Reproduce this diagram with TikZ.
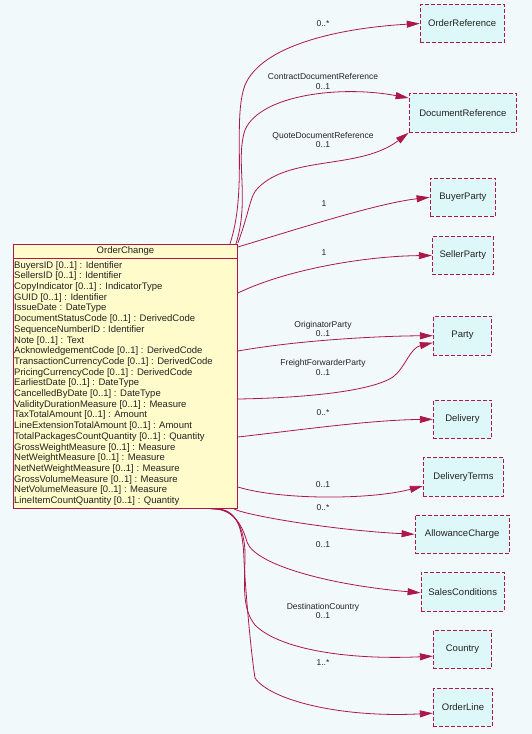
\documentclass[tikz,border=0pt]{standalone}
\usepackage{fontspec}
\setmainfont{Liberation Sans}
\usetikzlibrary{arrows.meta}
\definecolor{bg}{RGB}{242,249,251}
\definecolor{edge}{RGB}{172,24,72}
\definecolor{clsfill}{RGB}{255,251,202}
\definecolor{reffill}{RGB}{222,248,249}
\definecolor{txt}{RGB}{35,35,35}
\begin{document}
\begin{tikzpicture}[x=1pt,y=-1pt,
  cls/.style={draw=edge, fill=clsfill, line width=0.9pt, minimum width=224pt, minimum height=264pt, anchor=north west, inner sep=0pt},
  refbox/.style={draw=edge, fill=reffill, dash pattern=on 4pt off 2pt, line width=0.9pt, minimum height=38.5pt, inner sep=0pt, font=\fontsize{9.5}{11}\selectfont, text=txt},
  attr/.style={anchor=base west, inner sep=0pt, font=\fontsize{9.5}{11}\selectfont, text=txt},
  lbl/.style={inner sep=0pt, font=\fontsize{8.5}{9.4}\selectfont, text=txt, align=center},
  assoc/.style={draw=edge, line width=0.8pt, -{Triangle[length=13pt,width=7pt]}},
]
\useasboundingbox (0,0) rectangle (532,734);
\fill[bg] (0,0) rectangle (532,734);

% class box
\node[cls] (oc) at (13,244) {};
\draw[edge, line width=0.9pt] ([shift={(0,14)}]oc.north west) -- ([shift={(0,14)}]oc.north east);
\node[inner sep=0pt, font=\fontsize{9.5}{11}\selectfont, text=txt] (octitle) at (125.5,251) {OrderChange};
\foreach \t [count=\i] in {
  {BuyersID [0..1] : Identifier},
  {SellersID [0..1] : Identifier},
  {CopyIndicator [0..1] : IndicatorType},
  {GUID [0..1] : Identifier},
  {IssueDate : DateType},
  {DocumentStatusCode [0..1] : DerivedCode},
  {SequenceNumberID : Identifier},
  {Note [0..1] : Text},
  {AcknowledgementCode [0..1] : DerivedCode},
  {TransactionCurrencyCode [0..1] : DerivedCode},
  {PricingCurrencyCode [0..1] : DerivedCode},
  {EarliestDate [0..1] : DateType},
  {CancelledByDate [0..1] : DateType},
  {ValidityDurationMeasure [0..1] : Measure},
  {TaxTotalAmount [0..1] : Amount},
  {LineExtensionTotalAmount [0..1] : Amount},
  {TotalPackagesCountQuantity [0..1] : Quantity},
  {GrossWeightMeasure [0..1] : Measure},
  {NetWeightMeasure [0..1] : Measure},
  {NetNetWeightMeasure [0..1] : Measure},
  {GrossVolumeMeasure [0..1] : Measure},
  {NetVolumeMeasure [0..1] : Measure},
  {LineItemCountQuantity [0..1] : Quantity}}
  \node[attr] (a\i) at (14,{268.1+10.7*(\i-1)}) {\t};

% referenced classes
\node[refbox, minimum width=84pt] (ordref) at (462.2,23.5) {OrderReference};
\node[refbox, minimum width=107.7pt] (docref) at (462.9,113) {DocumentReference};
\node[refbox, minimum width=65.7pt] (bp) at (462.9,197.3) {BuyerParty};
\node[refbox, minimum width=61pt] (sp) at (462.8,255.5) {SellerParty};
\node[refbox, minimum width=58.4pt] (party) at (462.5,335.7) {Party};
\node[refbox, minimum width=58.4pt] (del) at (462.5,419.3) {Delivery};
\node[refbox, minimum width=80.4pt] (dt) at (463.5,477) {DeliveryTerms};
\node[refbox, minimum width=94.3pt] (ac) at (462.2,534.3) {AllowanceCharge};
\node[refbox, minimum width=83.3pt] (sc) at (462.7,591.8) {SalesConditions};
\node[refbox, minimum width=58.4pt] (cty) at (462.5,649.2) {Country};
\node[refbox, minimum width=59.4pt] (ol) at (463,707.2) {OrderLine};

% connectors
\draw[assoc] ([shift={(-8,0)}]oc.north east) .. controls (248,190) and (232,120) .. (245,85) .. controls (262,45) and (340,28) .. (ordref.west);
\draw[assoc] ([shift={(-2,0)}]oc.north east) .. controls (250,200) and (235,160) .. (245,130) .. controls (260,95) and (340,85) .. ([shift={(0,-15)}]docref.west);
\draw[assoc] ([shift={(0,-1)}]oc.north east) .. controls (250,210) and (250,195) .. (258,188) .. controls (290,155) and (360,170) .. (docref.south west);
\draw[assoc] ([shift={(0,3)}]oc.north east) .. controls (310,225) and (380,203) .. (bp.west);
\draw[assoc] ([shift={(0,49)}]oc.north east) .. controls (290,268) and (370,256) .. (sp.west);
\draw[assoc] ([shift={(0,107)}]oc.north east) .. controls (300,340) and (380,336) .. (party.west);
\draw[assoc] ([shift={(0,155)}]oc.north east) .. controls (300,398) and (370,392) .. (393,377) .. controls (405,368) and (410,348) .. ([shift={(0,7)}]party.west);
\draw[assoc] ([shift={(0,193)}]oc.north east) .. controls (300,430) and (370,420) .. (del.west);
\draw[assoc] ([shift={(0,243)}]oc.north east) .. controls (280,500) and (370,500) .. ([shift={(0,9)}]dt.west);
\draw[assoc] ([shift={(-4,0)}]oc.south east) .. controls (245,515) and (330,530) .. (ac.west);
\draw[assoc] ([shift={(-27,0)}]oc.south east) .. controls (235,508) and (243,528) .. (247,542) .. controls (255,565) and (330,585) .. ([shift={(0,1)}]sc.west);
\draw[assoc] ([shift={(-25,0)}]oc.south east) .. controls (236,508) and (246,530) .. (245,560) .. controls (244,590) and (243,610) .. (255,625) .. controls (280,650) and (350,660) .. ([shift={(0,7)}]cty.west);
\draw[assoc] ([shift={(-23,0)}]oc.south east) .. controls (238,508) and (243,530) .. (244,560) .. controls (246,600) and (252,660) .. (255,678) .. controls (270,700) and (340,718) .. ([shift={(0,6)}]ol.west);

% labels
\node[lbl] (l1) at (323,23.3) {0..*};
\node[lbl] (l2) at (323,81.3) {ContractDocumentReference\\0..1};
\node[lbl] (l3) at (323,140) {QuoteDocumentReference\\0..1};
\node[lbl] (l4) at (324,204) {1};
\node[lbl] (l5) at (324,252.7) {1};
\node[lbl] (l6) at (323,329) {OriginatorParty\\0..1};
\node[lbl] (l7) at (323,367.3) {FreightForwarderParty\\0..1};
\node[lbl] (l8) at (323,412.7) {0..*};
\node[lbl] (l9) at (323,484.3) {0..1};
\node[lbl] (l10) at (323,507.7) {0..*};
\node[lbl] (l11) at (323,545) {0..1};
\node[lbl] (l12) at (323,610.7) {DestinationCountry\\0..1};
\node[lbl] (l13) at (323,662.3) {1..*};
\end{tikzpicture}
\end{document}
